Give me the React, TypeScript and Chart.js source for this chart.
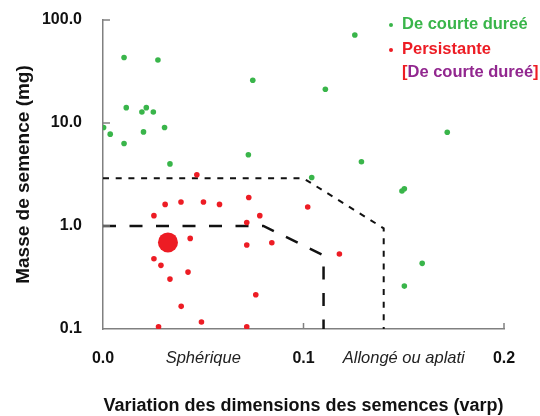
import React, { useEffect, useRef } from "react";
import { Chart, registerables } from "chart.js";

Chart.register(...registerables);

// ---- data ----
const GREEN_X = [0.0105, 0.0274, 0.0747, 0.0116, 0.0216, 0.0194, 0.0251, 0.0003, 0.0307, 0.0036, 0.0202, 0.0105, 0.0725, 0.0334, 0.1256, 0.1109, 0.1717, 0.1289, 0.1041, 0.1491, 0.1503, 0.1592, 0.1503];
const GREEN_Y = [43.2, 40.9, 26.0, 14.1, 14.1, 12.8, 12.8, 9.04, 9.04, 7.79, 8.2, 6.33, 4.91, 4.01, 71.5, 21.3, 8.14, 4.2, 2.96, 2.19, 2.3, 0.434, 0.261];

const RED_X = [0.0468, 0.0727, 0.0254, 0.031, 0.0389, 0.0501, 0.0581, 0.0782, 0.0717, 0.0435, 0.0717, 0.0842, 0.0254, 0.0289, 0.0424, 0.0334, 0.0762, 0.039, 0.0491, 0.0277, 0.0717, 0.1021, 0.1179];
const RED_Y = [3.14, 1.89, 1.26, 1.62, 1.71, 1.71, 1.62, 1.26, 1.08, 0.758, 0.653, 0.687, 0.481, 0.415, 0.357, 0.305, 0.215, 0.166, 0.117, 0.105, 0.105, 1.53, 0.534];

const BIG_RED_X = [0.0324];
const BIG_RED_Y = [0.693];

const SHORT_DASH_X = [0, 0.1, 0.14, 0.14];
const SHORT_DASH_Y = [2.9, 2.9, 0.95, 0.1];

const LONG_DASH_X = [0, 0.08, 0.11, 0.11];
const LONG_DASH_Y = [1.0, 1.0, 0.52, 0.1];

const X_TICKS = [0, 0.05, 0.1, 0.15, 0.2];
const X_TICK_LABELS = ["0.0", "Sphérique", "0.1", "Allongé ou aplati", "0.2"];
const X_TICK_MARKS = [0.1, 0.2];

const Y_TICKS = [0.1, 1, 10, 100];
const Y_TICK_LABELS = ["0.1", "1.0", "10.0", "100.0"];
const Y_TICK_MARKS = [1, 10, 100];

const LEGEND_GREEN = "De courte dureé";
const LEGEND_RED = "Persistante";
const LEGEND_SUB = "De courte dureé";

const X_TITLE = "Variation des dimensions des semences (varp)";
const Y_TITLE = "Masse de semence (mg)";

const GREEN = "#39b54a";
const RED = "#ed1c24";
const PURPLE = "#92278f";
const AXIS = "#808080";
const FONT = "'Liberation Sans', Arial, Helvetica, sans-serif";

const zip = (xs: number[], ys: number[]) => xs.map((x, i) => ({ x, y: ys[i] }));

const tickMarksPlugin = {
  id: "tickMarks",
  afterDatasetsDraw(chart: any) {
    const { ctx, chartArea, scales } = chart;
    ctx.save();
    ctx.strokeStyle = AXIS;
    ctx.lineWidth = 1.5;
    Y_TICK_MARKS.forEach((v) => {
      const y = scales.y.getPixelForValue(v);
      ctx.beginPath();
      ctx.moveTo(chartArea.left, y);
      ctx.lineTo(chartArea.left + 7, y);
      ctx.stroke();
    });
    X_TICK_MARKS.forEach((v) => {
      const x = scales.x.getPixelForValue(v);
      ctx.beginPath();
      ctx.moveTo(x, chartArea.bottom);
      ctx.lineTo(x, chartArea.bottom - 6);
      ctx.stroke();
    });
    ctx.restore();
  },
};

const legendPlugin = {
  id: "customLegend",
  afterDraw(chart: any) {
    const { ctx } = chart;
    ctx.save();
    ctx.font = `bold 16.5px ${FONT}`;
    ctx.textBaseline = "middle";
    ctx.textAlign = "left";
    const bx = 391;
    const tx = 402;
    const rows = [24, 49, 72];
    ctx.fillStyle = GREEN;
    ctx.beginPath();
    ctx.arc(bx, rows[0] + 1, 2, 0, Math.PI * 2);
    ctx.fill();
    ctx.fillText(LEGEND_GREEN, tx, rows[0]);
    ctx.fillStyle = RED;
    ctx.beginPath();
    ctx.arc(bx, rows[1] + 1, 2, 0, Math.PI * 2);
    ctx.fill();
    ctx.fillText(LEGEND_RED, tx, rows[1]);
    let x = tx;
    ctx.fillStyle = RED;
    ctx.fillText("[", x, rows[2]);
    x += ctx.measureText("[").width;
    ctx.fillStyle = PURPLE;
    ctx.fillText(LEGEND_SUB, x, rows[2]);
    x += ctx.measureText(LEGEND_SUB).width;
    ctx.fillStyle = RED;
    ctx.fillText("]", x, rows[2]);
    ctx.restore();
  },
};

export default function App() {
  const ref = useRef<HTMLCanvasElement | null>(null);

  useEffect(() => {
    if (!ref.current) return;
    Chart.defaults.font.family = FONT;
    const chart = new Chart(ref.current, {
      type: "scatter",
      data: {
        datasets: [
          {
            label: "big",
            data: zip(BIG_RED_X, BIG_RED_Y),
            backgroundColor: RED,
            borderColor: RED,
            pointRadius: 10,
            borderWidth: 0,
            order: 1,
          },
          {
            label: LEGEND_GREEN,
            data: zip(GREEN_X, GREEN_Y),
            backgroundColor: GREEN,
            borderColor: GREEN,
            pointRadius: 2.8,
            borderWidth: 0,
            order: 1,
          },
          {
            label: LEGEND_RED,
            data: zip(RED_X, RED_Y),
            backgroundColor: RED,
            borderColor: RED,
            pointRadius: 2.8,
            borderWidth: 0,
            order: 1,
          },
          {
            label: "short",
            data: zip(SHORT_DASH_X, SHORT_DASH_Y),
            showLine: true,
            pointRadius: 0,
            borderColor: "#111",
            borderWidth: 2,
            borderDash: [6, 6.7],
            fill: false,
            order: 2,
          },
          {
            label: "long",
            data: zip(LONG_DASH_X, LONG_DASH_Y),
            showLine: true,
            pointRadius: 0,
            borderColor: "#111",
            borderWidth: 2.5,
            borderDash: [13, 13.5],
            fill: false,
            order: 2,
          },
        ],
      },
      options: {
        responsive: false,
        animation: false,
        devicePixelRatio: 1,
        layout: { padding: { top: 20, right: 36, left: 0, bottom: 0 } },
        plugins: {
          legend: { display: false },
          tooltip: { enabled: false },
        },
        scales: {
          x: {
            type: "linear",
            min: 0,
            max: 0.2,
            border: { display: true, color: AXIS, width: 1.5 },
            grid: { display: false, drawOnChartArea: false, drawTicks: false },
            afterBuildTicks: (scale: any) => {
              scale.ticks = X_TICKS.map((v) => ({ value: v }));
            },
            afterFit: (scale: any) => {
              scale.height = 87;
              scale.paddingLeft = 0;
              scale.paddingRight = 0;
            },
            ticks: {
              autoSkip: false,
              maxRotation: 0,
              minRotation: 0,
              padding: 20,
              color: (c: any) => (c.index % 2 === 1 ? "#222" : "#111"),
              font: (c: any) =>
                c.index % 2 === 1
                  ? { size: 16.5, style: "italic", weight: "normal", family: FONT }
                  : { size: 16, weight: "bold", family: FONT },
              callback: (_v: any, i: number) => X_TICK_LABELS[i],
            },
            title: {
              display: true,
              text: X_TITLE,
              color: "#111",
              font: { size: 18, weight: "bold", family: FONT, lineHeight: 1.1 },
              padding: { top: 0, bottom: 0 },
            },
          },
          y: {
            type: "logarithmic",
            min: 0.1,
            max: 100,
            border: { display: true, color: AXIS, width: 1.5 },
            grid: { display: false, drawOnChartArea: false, drawTicks: false },
            afterBuildTicks: (scale: any) => {
              scale.ticks = Y_TICKS.map((v) => ({ value: v }));
            },
            afterFit: (scale: any) => {
              scale.width = 103;
              scale.paddingTop = 0;
              scale.paddingBottom = 0;
            },
            ticks: {
              autoSkip: false,
              padding: 21,
              color: "#111",
              font: { size: 16, weight: "bold", family: FONT },
              callback: (v: any) => {
                const i = Y_TICKS.findIndex((t) => Math.abs(t - v) < 1e-9);
                return i >= 0 ? Y_TICK_LABELS[i] : "";
              },
            },
            title: {
              display: true,
              text: Y_TITLE,
              color: "#111",
              font: { size: 19, weight: "bold", family: FONT, lineHeight: 1.2 },
              padding: { top: 12, bottom: 0 },
            },
          },
        },
      } as any,
      plugins: [tickMarksPlugin, legendPlugin],
    });
    return () => chart.destroy();
  }, []);

  return (
    <div style={{ position: "absolute", left: 0, top: 0, width: 540, height: 416, background: "#fff" }}>
      <canvas ref={ref} width={540} height={416} style={{ width: 540, height: 416, display: "block" }} />
    </div>
  );
}
